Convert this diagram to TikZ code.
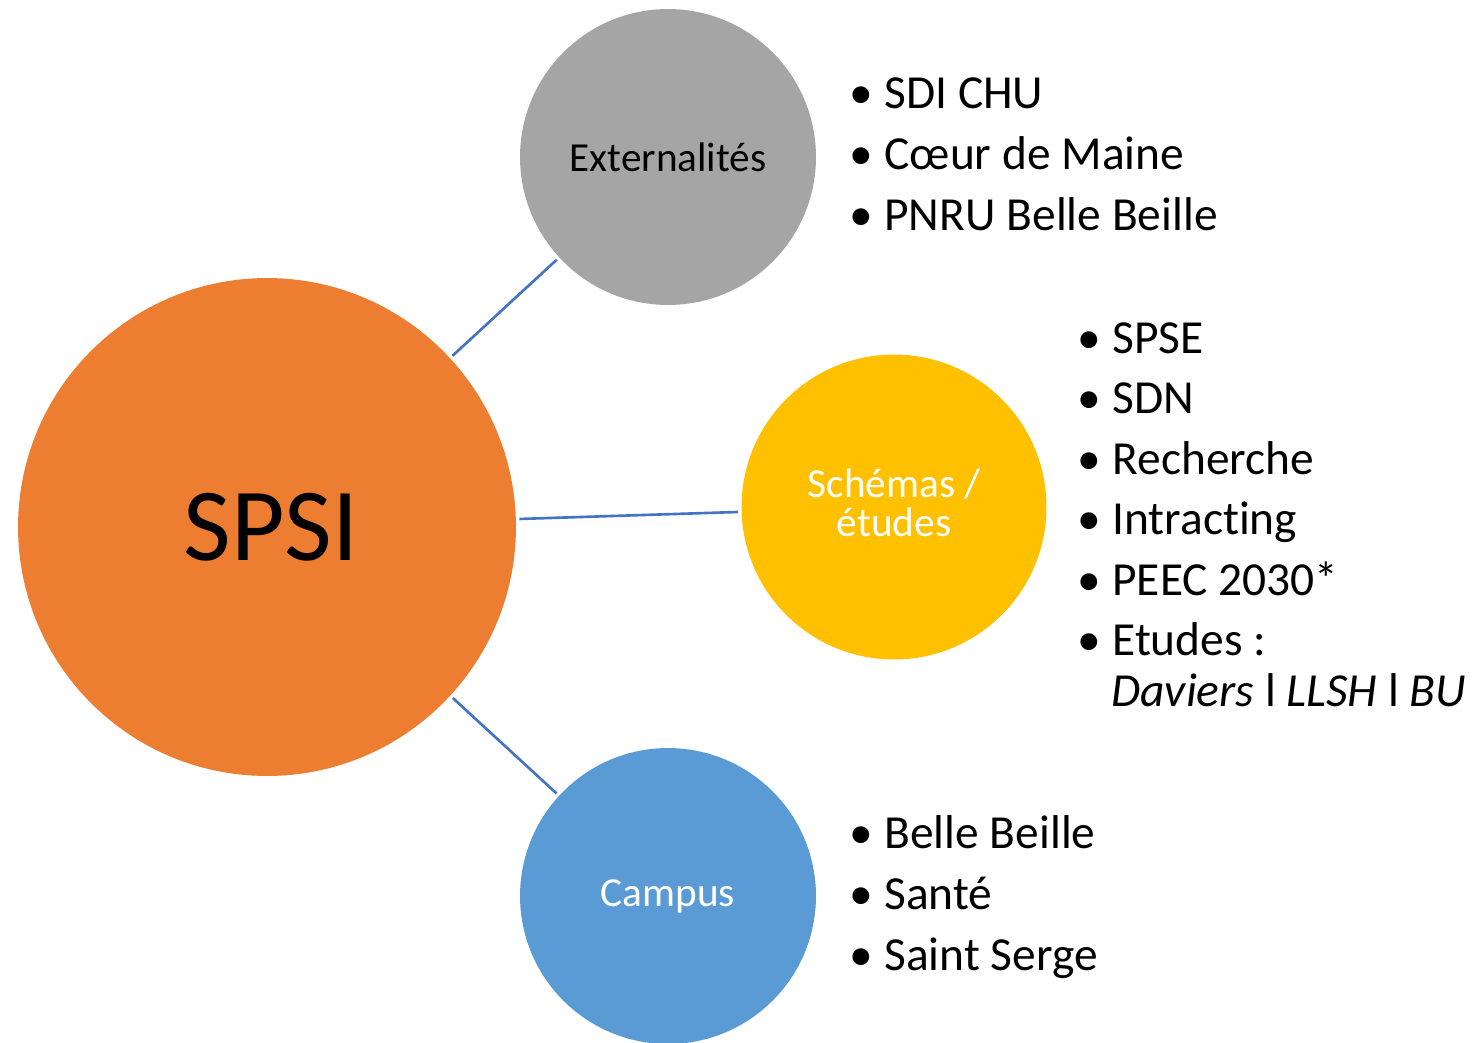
\documentclass[tikz,border=0pt]{standalone}
\usepackage{fontspec}
\setmainfont{Carlito}[Ligatures=NoCommon]
\usepackage{tikz}
\definecolor{spsiorange}{HTML}{ED7D31}
\definecolor{extgray}{HTML}{A5A5A5}
\definecolor{schyellow}{HTML}{FFC000}
\definecolor{campblue}{HTML}{5B9BD5}
\definecolor{linkblue}{HTML}{4472C4}
\tikzset{bubble/.style={circle, inner sep=0pt, outer sep=2pt, align=center,
    font=\fontsize{23.5}{22}\selectfont},
  link/.style={draw=linkblue, line width=1.5pt},
  point/.style={anchor=base west, inner sep=0pt, font=\fontsize{27}{29}\selectfont}}
\newcommand{\bul}{\makebox[20pt][l]{\textbullet}}

\begin{document}
\begin{tikzpicture}[x=0.02cm, y=-0.02cm]
    \useasboundingbox (0,0) rectangle (1476,1042);

    \node[bubble, fill=spsiorange, minimum size=9.96cm] (spsi) at (267, 527) {};
    \node[bubble, fill=extgray, minimum size=5.92cm] (ext) at (668, 157) {Externalités};
    \node[bubble, fill=schyellow, minimum size=6.1cm, text=white] (sch) at (894, 507) {};
    \node[bubble, fill=campblue, minimum size=5.92cm, text=white] (camp) at (668, 896) {Campus};
    % labels of the big and the yellow bubble, set a bit off centre
    \node[font=\fontsize{59}{60}\selectfont] (spsilbl) at (271, 527) {SPSI};
    \node[bubble, text=white] (schlbl) at (894, 503) {Schémas /\\études};

    \draw[link] (spsi) -- (ext);
    \draw[link] (spsi) -- (sch);
    \draw[link] (spsi) -- (camp);

    % bullet lists
    \foreach \txt [count=\i] in {SDI CHU, Cœur de Maine, PNRU Belle Beille}
        \node[point] (ext\i) at (849, 47+61*\i) {\bul\txt};
    \foreach \txt [count=\i] in {SPSE, SDN, Recherche, Intracting, PEEC 2030*}
        \node[point] (sch\i) at (1077, 292.5+60.5*\i) {\bul\txt};
    \node[point] (etudes) at (1077, 655.5) {\bul Etudes :};
    \node[point] (sites) at (1111, 706.5) {\textit{Daviers} l \textit{LLSH} l \textit{BU}};
    \foreach \txt [count=\i] in {Belle Beille, Santé, Saint Serge}
        \node[point] (camp\i) at (849, 787+61*\i) {\bul\txt};
\end{tikzpicture}
\end{document}
